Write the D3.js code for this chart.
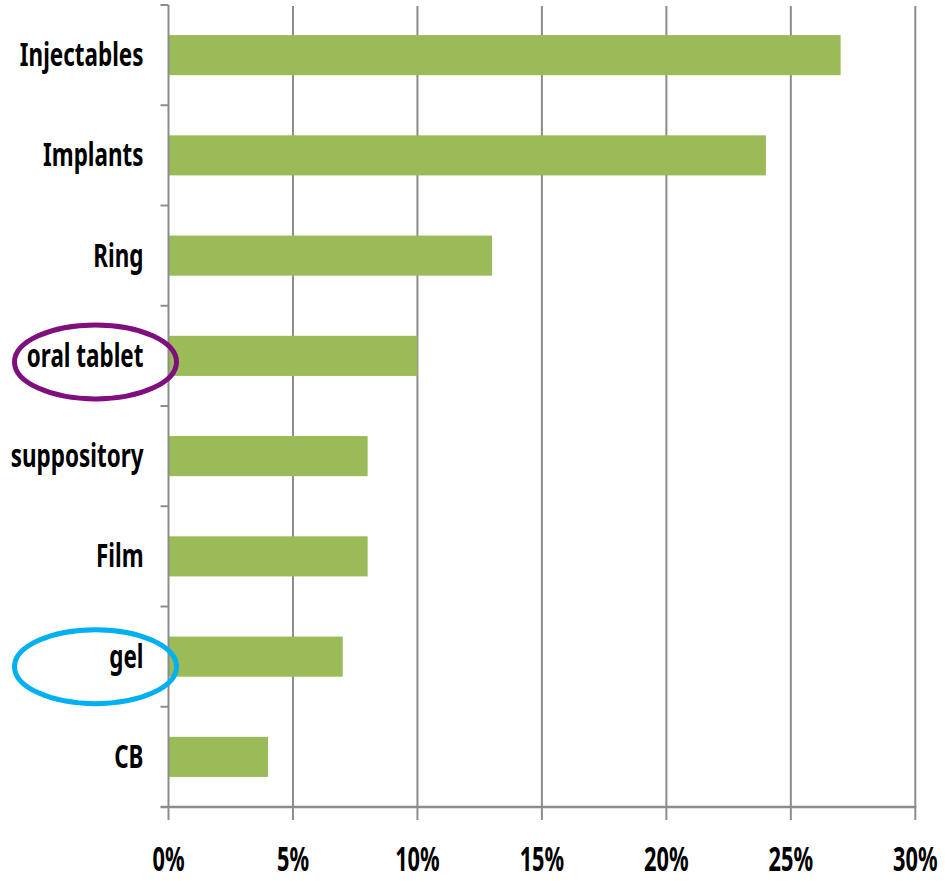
<!DOCTYPE html>
<html>
<head>
<meta charset="utf-8">
<script src="https://cdn.jsdelivr.net/npm/d3@7"></script>
<style>
  html, body { margin: 0; padding: 0; background: #fff; }
  svg { display: block; }
  .lbl { font-family: "Noto Sans", "Open Sans", sans-serif; font-weight: 700; fill: #000; }
</style>
</head>
<body>
<svg id="chart" width="945" height="881"></svg>
<script>
const categories = ["Injectables", "Implants", "Ring", "oral tablet", "suppository", "Film", "gel", "CB"];
const values = [27, 24, 13, 10, 8, 8, 7, 4];
const xTicks = [0, 5, 10, 15, 20, 25, 30];
const highlights = [
  { category: "oral tablet", color: "#7F0F7E", dy: 6 },
  { category: "gel", color: "#00B0F0", dy: 10 }
];

(function () {
const svg = d3.select("#chart");
const mLeft = 168.5, mRight = 915.3, mTop = 5, mBottom = 807;
const gridColor = "#8c8c8c";

const x = d3.scaleLinear().domain([0, 30]).range([mLeft, mRight]);
const y = d3.scaleBand().domain(categories).range([mTop, mBottom]).paddingInner(0.6).paddingOuter(0.3);

// gridlines
svg.append("g").selectAll("line").data(xTicks.slice(1)).join("line")
  .attr("x1", d => x(d)).attr("x2", d => x(d))
  .attr("y1", mTop + 1).attr("y2", mBottom)
  .attr("stroke", gridColor).attr("stroke-width", 2);

// bars
svg.append("g").selectAll("rect").data(categories).join("rect")
  .attr("x", x(0))
  .attr("y", d => y(d))
  .attr("width", (d, i) => x(values[i]) - x(0))
  .attr("height", y.bandwidth())
  .attr("fill", "#9BBB59");

// y axis line + ticks at band boundaries
const step = y.step();
const yBounds = d3.range(categories.length + 1).map(i => mTop + i * step);
svg.append("line").attr("x1", x(0)).attr("x2", x(0)).attr("y1", mTop).attr("y2", mBottom)
  .attr("stroke", gridColor).attr("stroke-width", 2);
svg.append("g").selectAll("line").data(yBounds.slice(0, -1)).join("line")
  .attr("x1", x(0) - 8).attr("x2", x(0)).attr("y1", d => d).attr("y2", d => d)
  .attr("stroke", gridColor).attr("stroke-width", 2);

// x axis line + ticks
svg.append("line").attr("x1", x(0) - 8).attr("x2", x(30) + 1).attr("y1", mBottom).attr("y2", mBottom)
  .attr("stroke", gridColor).attr("stroke-width", 2.5);
svg.append("g").selectAll("line").data(xTicks).join("line")
  .attr("x1", d => x(d)).attr("x2", d => x(d)).attr("y1", mBottom).attr("y2", mBottom + 13)
  .attr("stroke", gridColor).attr("stroke-width", 2);

// category labels
svg.append("g").selectAll("text").data(categories).join("text")
  .attr("class", "lbl")
  .attr("transform", d => `translate(${x(0) - 25},${y(d) + y.bandwidth() / 2 + 11}) scale(0.68,1)`)
  .attr("text-anchor", "end")
  .style("font-size", "33px")
  .text(d => d);

// x tick labels
svg.append("g").selectAll("text").data(xTicks).join("text")
  .attr("class", "lbl")
  .attr("transform", d => `translate(${x(d)},871) scale(0.64,1)`)
  .attr("text-anchor", "middle")
  .style("font-size", "34px")
  .text(d => d + "%");

// highlight ellipses
svg.append("g").selectAll("ellipse").data(highlights).join("ellipse")
  .attr("cx", 95.5)
  .attr("cy", d => y(d.category) + y.bandwidth() / 2 + d.dy)
  .attr("rx", 81)
  .attr("ry", 37)
  .attr("fill", "none")
  .attr("stroke", d => d.color)
  .attr("stroke-width", 5);
})();
</script>
</body>
</html>
